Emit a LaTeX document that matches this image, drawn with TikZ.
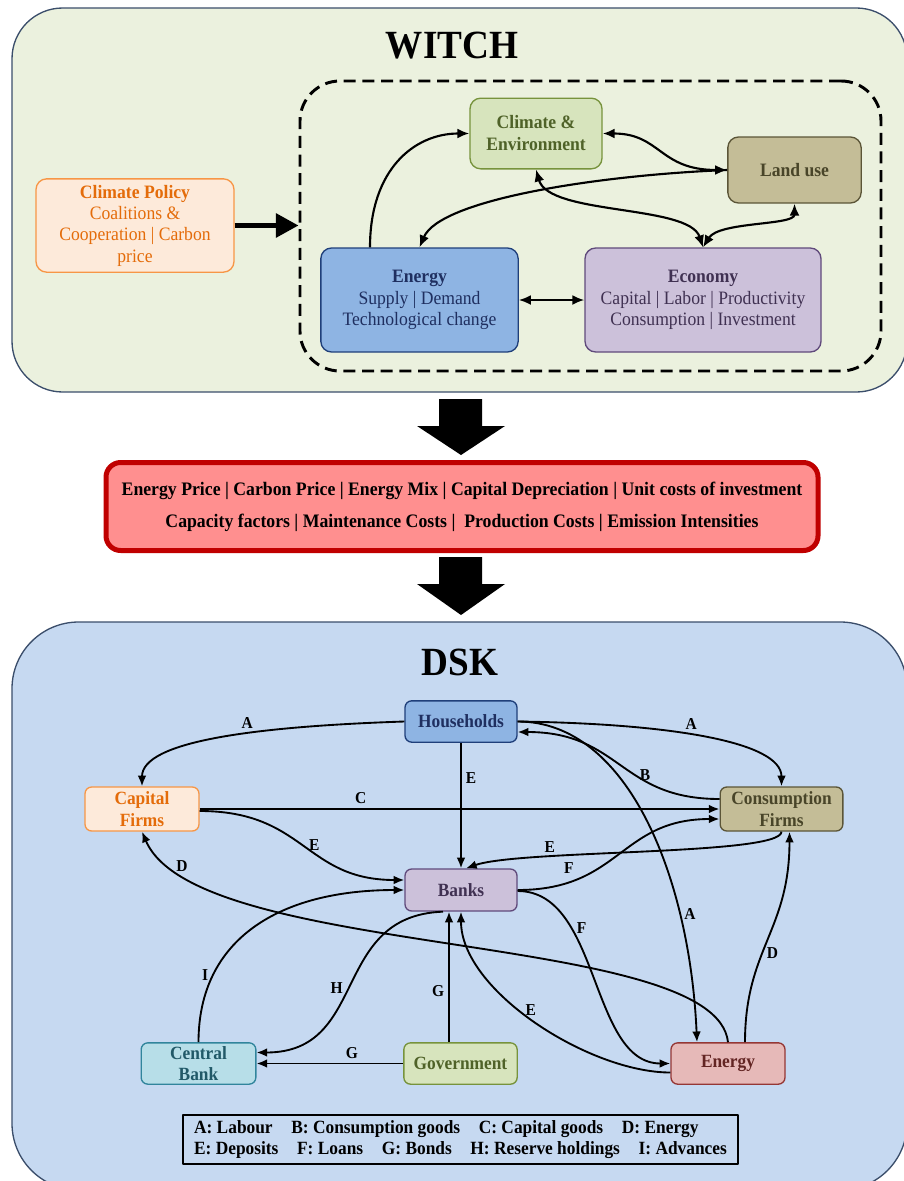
\documentclass[tikz,border=0pt]{standalone}
\usepackage{fontspec}
\setmainfont{Liberation Serif}[FakeStretch=0.93]
\usetikzlibrary{arrows.meta,calc}

\definecolor{witchbg}{HTML}{EBF1DE}
\definecolor{dskbg}{HTML}{C6D9F1}
\definecolor{boxframe}{HTML}{3B4E6B}
\definecolor{climfill}{HTML}{D7E4BD}
\definecolor{climdraw}{HTML}{77933C}
\definecolor{climtext}{HTML}{4F6228}
\definecolor{landfill}{HTML}{C4BD97}
\definecolor{landdraw}{HTML}{5B5537}
\definecolor{landtext}{HTML}{494529}
\definecolor{enfill}{HTML}{8EB4E3}
\definecolor{endraw}{HTML}{1F3F7A}
\definecolor{entext}{HTML}{1F2F60}
\definecolor{ecofill}{HTML}{CCC1DA}
\definecolor{ecodraw}{HTML}{604A7B}
\definecolor{ecotext}{HTML}{403152}
\definecolor{polfill}{HTML}{FDEADA}
\definecolor{poldraw}{HTML}{F79646}
\definecolor{poltext}{HTML}{E46C0A}
\definecolor{cbfill}{HTML}{B7DEE8}
\definecolor{cbdraw}{HTML}{31859C}
\definecolor{cbtext}{HTML}{215968}
\definecolor{edfill}{HTML}{E6B9B8}
\definecolor{eddraw}{HTML}{953735}
\definecolor{edtext}{HTML}{632523}
\definecolor{redfill}{HTML}{FF8F8F}
\definecolor{reddraw}{HTML}{C00000}

\begin{document}
\begin{tikzpicture}[x=0.75pt,y=-0.75pt,>={Latex[length=8pt,width=6.5pt]},line join=round]
  \tikzstyle{module}=[rectangle,draw,rounded corners=8pt,line width=1pt,align=center,
                      inner sep=2pt,font=\fontsize{14.2}{16}\selectfont]
  \tikzstyle{agent}=[module,rounded corners=5pt,font=\bfseries\fontsize{14}{16}\selectfont]
  \tikzstyle{wlink}=[line width=1.6pt,>={Latex[length=9pt,width=7.5pt]}]
  \tikzstyle{flow}=[line width=1.4pt,->]
  \tikzstyle{tag}=[font=\bfseries\fontsize{12.5}{12.5}\selectfont,inner sep=3pt]
  \tikzstyle{title}=[font=\bfseries\fontsize{30}{30}\selectfont]

  \useasboundingbox (0,0) rectangle (903,1181);

  % WITCH
  \draw[fill=witchbg,draw=boxframe,line width=1pt,rounded corners=38pt] (12,8) rectangle (907,392);
  \node[title] (witch) at (452,46) {WITCH};
  \node[draw,dash pattern=on 9pt off 5pt,line width=2.2pt,rounded corners=30pt,
        minimum width=435.75pt,minimum height=217.5pt,inner sep=0pt] (core) at (590.5,226) {};

  \node[module,fill=climfill,draw=climdraw,text=climtext,font=\bfseries\fontsize{14.2}{16.5}\selectfont,
        minimum width=99pt,minimum height=53pt] (clim) at (536,133.5) {Climate \&\\Environment};
  \node[module,fill=landfill,draw=landdraw,text=landtext,font=\bfseries\fontsize{14.2}{16}\selectfont,
        minimum width=100pt,minimum height=49.5pt] (land) at (794.5,170) {Land use};
  \node[module,fill=enfill,draw=endraw,text=entext,
        minimum width=148pt,minimum height=78pt] (energy) at (419.5,300)
        {\textbf{Energy}\\Supply | Demand\\Technological change};
  \node[module,fill=ecofill,draw=ecodraw,text=ecotext,
        minimum width=177pt,minimum height=78pt] (econ) at (703,300)
        {\textbf{Economy}\\Capital | Labor | Productivity\\Consumption | Investment};
  \node[module,fill=polfill,draw=poldraw,text=poltext,
        minimum width=148.5pt,minimum height=70pt] (policy) at (135,225.5)
        {\textbf{Climate Policy}\\Coalitions \&\\Cooperation | Carbon\\price};

  \draw[line width=3.75pt,-{Triangle[length=17pt,width=17.5pt]}] (policy.east) -- (policy.east -| core.west);
  \draw[wlink,->] ($(energy.north)+(-49.5,0)$) .. controls +(0,-78) and +(-55,0) .. (clim.west);
  \draw[wlink,<->] (clim.east) .. controls +(58,0) and +(-68,0) .. (land.west);
  \draw[wlink,->] (land.west) .. controls +(-128,5) and +(20.5,-48) .. (energy.north);
  \draw[wlink,<->] (clim.south) .. controls +(13,46) and +(-14,-43) .. (econ.north);
  \draw[wlink,<->] (econ.north) .. controls +(16,-26) and +(0,22) .. (land.south);
  \draw[wlink,<->] (energy.east) -- (econ.west);

  % hand-over
  \fill (439,399) -- (482,399) -- (482,426) -- (505,426) -- (461,455) -- (417,426) -- (439,426) -- cycle;
  \node[draw=reddraw,fill=redfill,line width=3.75pt,rounded corners=11pt,minimum width=534pt,
        minimum height=66pt,align=center,font=\bfseries\fontsize{14.3}{24}\selectfont] (vars) at (462,506.5)
        {Energy Price | Carbon Price | Energy Mix | Capital Depreciation | Unit costs of investment\\
         Capacity factors | Maintenance Costs |\ \ Production Costs | Emission Intensities};
  \fill (439,557) -- (482,557) -- (482,584) -- (505,584) -- (461,615) -- (417,584) -- (439,584) -- cycle;

  % DSK
  \draw[fill=dskbg,draw=boxframe,line width=1pt,rounded corners=50pt] (12,622) rectangle (907,1190);
  \node[title] (dsk) at (460,662) {DSK};

  \node[agent,fill=enfill,draw=endraw,text=entext,minimum width=84pt,minimum height=31pt] (hh) at (461,721.5) {Households};
  \node[agent,fill=polfill,draw=poldraw,text=poltext,minimum width=85.5pt,minimum height=33pt] (capf) at (142,809) {Capital\\Firms};
  \node[agent,fill=landfill,draw=landdraw,text=landtext,minimum width=92pt,minimum height=33pt] (conf) at (781.5,809) {Consumption\\Firms};
  \node[agent,fill=ecofill,draw=ecodraw,text=ecotext,minimum width=84pt,minimum height=31.5pt] (banks) at (461,890) {Banks};
  \node[agent,fill=cbfill,draw=cbdraw,text=cbtext,minimum width=86pt,minimum height=31pt] (cbank) at (198.5,1063.5) {Central\\Bank};
  \node[agent,fill=climfill,draw=climdraw,text=climtext,minimum width=85pt,minimum height=31pt] (gov) at (460.5,1063.5) {Government};
  \node[agent,fill=edfill,draw=eddraw,text=edtext,minimum width=85.5pt,minimum height=31pt] (enf) at (728,1063.5) {Energy};

  \draw[flow] (hh.west) .. controls +(-150,5) and +(0,-45) .. (capf.north) node[tag,pos=0.4,above] {A};
  \draw[flow] (hh.east) .. controls +(150,2) and +(0,-45) .. (conf.north) node[tag,pos=0.45,above] {A};
  \draw[flow] (hh.south) -- (banks.north) node[tag,pos=0.28,right] {E};
  \draw[flow] ($(conf.west)+(0,-10)$) .. controls +(-100,0) and +(103,0) .. ($(hh.east)+(0,10.5)$) node[tag,pos=0.4,right] {B};
  \draw[flow] (capf.east) -- (conf.west) node[tag,pos=0.31,above] {C};
  \draw[flow] ($(capf.east)+(0,2)$) .. controls +(106,0) and +(-100,0) .. ($(banks.west)+(0,-10)$) node[tag,pos=0.5,right] {E};
  \draw[flow] (conf.south) .. controls +(0,24) and +(54,-19) .. ($(banks.north)+(5,0)$) node[tag,pos=0.72,above] {E};
  \draw[flow] (banks.east) .. controls +(103,0) and +(-100,0) .. ($(conf.west)+(0,10)$) node[tag,pos=0.25,above left] {F};
  \draw[flow] (enf.north) .. controls +(-12,-113) and +(55,129) .. (capf.south) node[tag,pos=0.9,right] {D};
  \draw[flow] (hh.east) .. controls +(111,0) and +(-7,-163) .. ($(enf.north)+(-31,0)$) node[tag,pos=0.73,right] {A};
  \draw[flow] ($(enf.north)+(17,0)$) .. controls +(0,-93) and +(0,99) .. ($(conf.south)+(8,0)$) node[tag,pos=0.42,right] {D};
  \draw[flow] ($(banks.east)+(0,1)$) .. controls +(83,0) and +(-81,0) .. (enf.west) node[tag,pos=0.3,right] {F};
  \draw[flow] ($(enf.west)+(0,9)$) .. controls +(-81,0) and +(0,79) .. (banks.south) node[tag,pos=0.56,right] {E};
  \draw[flow] ($(gov.north)+(-11.5,0)$) -- ($(banks.south)+(-12,0)$) node[tag,pos=0.39,left] {G};
  \draw[flow] (gov.west) -- (cbank.east) node[tag,pos=0.35,above] {G};
  \draw[flow] (cbank.north) .. controls +(0,-103) and +(-125,0) .. (banks.west) node[tag,pos=0.25,left] {I};
  \draw[flow] ($(banks.south)+(-18,0)$) .. controls +(-113,4) and +(113,0) .. ($(cbank.east)+(0,-11)$) node[tag,pos=0.52,left] {H};

  \node[draw,line width=1.8pt,minimum width=416pt,minimum height=37pt,align=left,
        font=\bfseries\fontsize{14}{15.75}\selectfont] (legend) at (460.5,1139.5)
        {A: Labour\hspace{14pt}B: Consumption goods\hspace{14pt}C: Capital goods\hspace{14pt}D: Energy\\
         E: Deposits\hspace{14pt}F: Loans\hspace{14pt}G: Bonds\hspace{14pt}H: Reserve holdings\hspace{14pt}I: Advances};
\end{tikzpicture}
\end{document}
